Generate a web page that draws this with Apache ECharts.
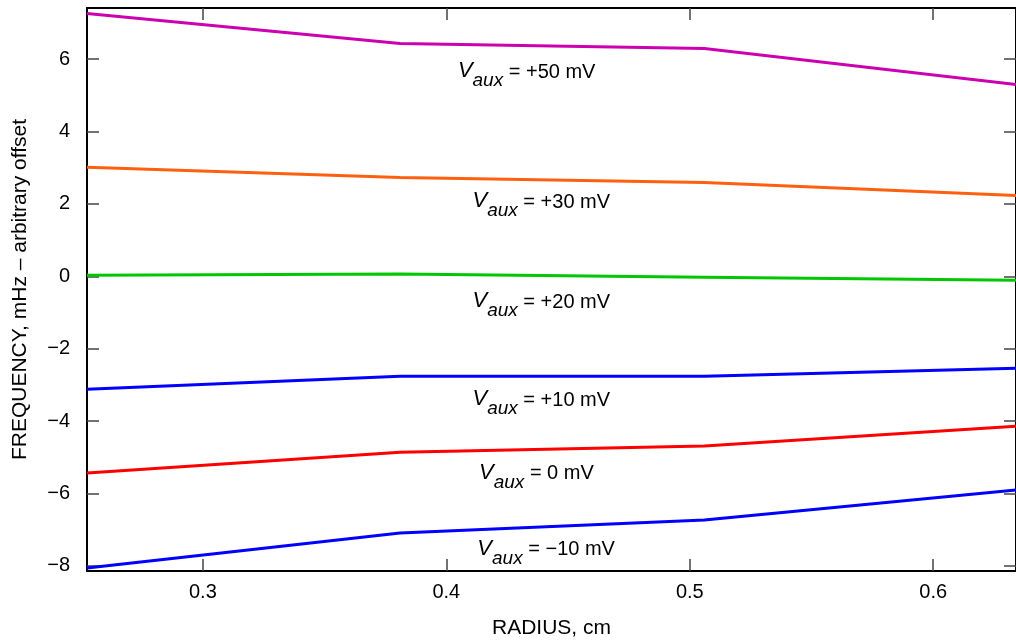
<!DOCTYPE html>
<html>
<head>
<meta charset="utf-8">
<script src="https://cdn.jsdelivr.net/npm/echarts@6/dist/echarts.min.js"></script>
<style>
  html, body { margin: 0; padding: 0; background: #fff; }
  #chart { width: 1016px; height: 640px; }
</style>
</head>
<body>
<div id="chart"></div>
<script>
// radius values, cm (same for every curve)
var radius = [0.2524, 0.381, 0.506, 0.634]

// frequency, mHz - arbitrary offset
var plus50 = [7.26, 6.43, 6.29, 5.30]
var plus30 = [3.01, 2.73, 2.59, 2.23]
var plus20 = [0.03, 0.06, -0.03, -0.11]
var plus10 = [-3.12, -2.76, -2.76, -2.54]
var zero = [-5.43, -4.86, -4.69, -4.14]
var minus10 = [-8.06, -7.09, -6.73, -5.90]

// tick positions
var xTicks = [0.3, 0.4, 0.5, 0.6]
var yTicks = [-8, -6, -4, -2, 0, 2, 4, 6]

// curve annotations
var labelText = ['+50', '+30', '+20', '+10', '0', '\u221210']
var labelX = [0.433, 0.439, 0.439, 0.439, 0.437, 0.441]
var labelY = [5.66, 2.07, -0.69, -3.39, -5.43, -7.53]

var seriesData = [plus50, plus30, plus20, plus10, zero, minus10]
var colors = ['#cc00b0', '#ff5f0f', '#00c800', '#0000ff', '#ff0000', '#0000ff']

var font = 'Liberation Sans, Arial, sans-serif'
var minus = function (s) { return String(s).replace('-', '\u2212') }

var series = seriesData.map(function (vals, i) {
  return {
    type: 'line',
    data: radius.map(function (r, j) { return [r, vals[j]] }),
    showSymbol: false,
    lineStyle: { color: colors[i], width: 3 },
    z: 3,
    markPoint: {
      symbolSize: 0,
      silent: true,
      data: [{
        coord: [labelX[i], labelY[i]],
        label: {
          show: true,
          position: 'inside',
          formatter: '{v|V}{s|aux}{t| = ' + labelText[i] + ' mV}',
          rich: {
            v: { fontFamily: font, fontStyle: 'italic', fontSize: 22, color: '#000', verticalAlign: 'bottom', lineHeight: 22 },
            s: { fontFamily: font, fontStyle: 'italic', fontSize: 19, color: '#000', verticalAlign: 'top', padding: [11, 0, 0, 0], lineHeight: 22 },
            t: { fontFamily: font, fontSize: 20, color: '#000', verticalAlign: 'bottom', lineHeight: 22 }
          }
        }
      }]
    }
  }
})

var tickStyle = { inside: true, length: 12, lineStyle: { color: '#444', width: 1.5 } }
var lineStyle = { onZero: false, lineStyle: { color: '#000', width: 2 } }

var chart = echarts.init(document.getElementById('chart'))
chart.setOption({
  animation: false,
  backgroundColor: '#fff',
  grid: { left: 87, top: 8, right: 0, bottom: 69, containLabel: false, outerBoundsMode: 'none' },
  xAxis: [
    {
      type: 'value', min: 0.2524, max: 0.634,
      name: 'RADIUS, cm', nameLocation: 'middle', nameGap: 47,
      nameTextStyle: { fontFamily: font, fontSize: 21, color: '#000' },
      axisLine: lineStyle,
      axisTick: Object.assign({ customValues: xTicks }, tickStyle),
      axisLabel: {
        customValues: xTicks,
        fontFamily: font, fontSize: 20, color: '#000', margin: 11,
        formatter: function (v) { return v.toFixed(1) }
      },
      splitLine: { show: false }
    },
    {
      type: 'value', position: 'top', min: 0.2524, max: 0.634,
      axisLine: lineStyle,
      axisTick: Object.assign({ customValues: xTicks }, tickStyle),
      axisLabel: { show: false, customValues: xTicks },
      splitLine: { show: false }
    }
  ],
  yAxis: [
    {
      type: 'value', min: -8.14, max: 7.41,
      name: 'FREQUENCY, mHz \u2013 arbitrary offset', nameLocation: 'middle', nameGap: 56,
      nameTextStyle: { fontFamily: font, fontSize: 21, color: '#000' },
      axisLine: lineStyle,
      axisTick: Object.assign({ customValues: yTicks }, tickStyle),
      axisLabel: {
        customValues: yTicks,
        fontFamily: font, fontSize: 20, color: '#000', margin: 17,
        formatter: function (v) { return minus(Math.round(v)) }
      },
      splitLine: { show: false }
    },
    {
      type: 'value', position: 'right', min: -8.14, max: 7.41,
      axisLine: lineStyle,
      axisTick: Object.assign({ customValues: yTicks }, tickStyle),
      axisLabel: { show: false, customValues: yTicks },
      splitLine: { show: false }
    }
  ],
  series: series
})
</script>
</body>
</html>
